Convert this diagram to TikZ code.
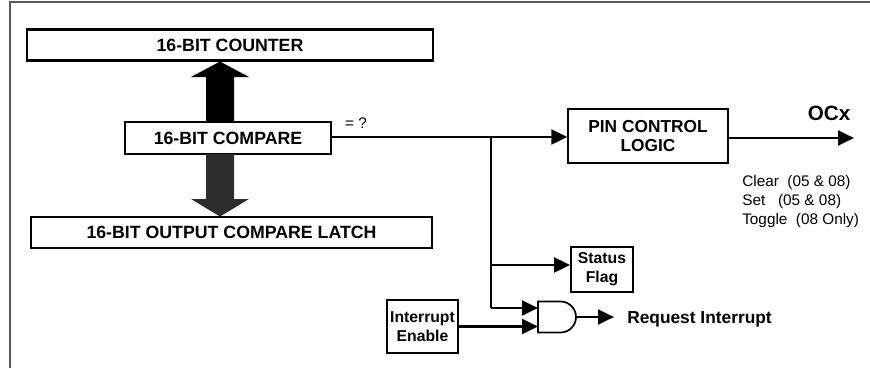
\documentclass[tikz,border=0pt]{standalone}
\usepackage{fontspec}
\setmainfont{Liberation Sans}
\usetikzlibrary{arrows.meta}
\begin{document}
\begin{tikzpicture}[x=0.75pt,y=-0.75pt,
  wire/.style={line width=2.2pt},
  arr/.style={wire,-{Triangle[length=12pt,width=11pt]}},
  bigbox/.style={draw,line width=2.2pt,inner sep=0pt,font=\fontsize{13.3}{14}\selectfont\bfseries},
  thinbox/.style={draw,line width=0.9pt,inner sep=0pt,align=center,font=\fontsize{13}{14.5}\selectfont\bfseries},
  smallbox/.style={draw,line width=1.3pt,inner sep=0pt,align=center,font=\fontsize{11.8}{14.2}\selectfont\bfseries},
  lbl/.style={inner sep=0pt,font=\fontsize{11.5}{14.25}\selectfont}
]
\useasboundingbox (0,0) rectangle (870,368);
% frame
\draw[line width=1.3pt,color={rgb,255:red,90;green,90;blue,90}] (10,368) -- (10,2) -- (870,2);

% boxes
\node[bigbox,minimum width=406*0.75pt,minimum height=31*0.75pt] (cnt) at (230,45) {16-BIT COUNTER};
\node[bigbox,minimum width=206*0.75pt,minimum height=32*0.75pt] (cmp) at (228,138) {16-BIT COMPARE};
\node[draw,line width=0.8pt,inner sep=0pt,font=\fontsize{13.3}{14}\selectfont\bfseries,minimum width=401*0.75pt,minimum height=31*0.75pt] (lat) at (231.5,232.5) {16-BIT OUTPUT COMPARE LATCH};

% wide arrows
\fill[black] (206,122) -- (206,77) -- (191,77) -- (220,61.5) -- (249,77) -- (234,77) -- (234,122) -- cycle;
\fill[color={rgb,255:red,45;green,45;blue,45}] (206,154) -- (206,199) -- (191,199) -- (220,216.5) -- (249,199) -- (234,199) -- (234,154) -- cycle;

\node[thinbox,minimum width=160*0.75pt,minimum height=54*0.75pt] (pin) at (648,136) {PIN CONTROL\\LOGIC};
\node[smallbox,minimum width=62*0.75pt,minimum height=45*0.75pt] (flag) at (602,269.5) {Status\\Flag};
\node[smallbox,minimum width=71*0.75pt,minimum height=53*0.75pt] (ie) at (422.5,326.5) {Interrupt\\Enable};

% texts
\node[lbl] (eq) at (356,123) {= ?};
\node[inner sep=0pt,font=\fontsize{15.5}{16}\selectfont\bfseries] (ocxt) at (829,113.5) {OCx};
\node[lbl,anchor=base west] (modes) at (742,186) {\begin{tabular}[t]{@{}l@{}}Clear~ (05 \& 08)\\ Set~~ (05 \& 08)\\ Toggle~ (08 Only)\end{tabular}};

% coordinates
\coordinate (j1) at (491,137);
\coordinate (j2) at (491,265);
\coordinate (j3) at (491,308);
\coordinate (ocx) at (854,138);
\coordinate (gin1) at (538,308);
\coordinate (gin2) at (538,326.5);
\coordinate (gout) at (576,317);
\coordinate (rq) at (614,317);

% AND gate
\draw[line width=1.3pt] (538,301.5) -- (560.5,301.5) arc[start angle=-90,end angle=90,radius=15.5] -- (538,332.5) -- cycle;

\node[inner sep=0pt,anchor=west,font=\fontsize{13}{14}\selectfont\bfseries] (rqt) at (627,319) {Request Interrupt};

% connectors
\draw[arr] (cmp.east |- j1) -- (pin.west |- j1);
\draw[wire] (j1) -- (j3);
\draw[arr] (j2) -- (j2 -| flag.west);
\draw[arr] (j3) -- (gin1);
\draw[arr] (ie.east |- gin2) -- (gin2);
\draw[arr] (gout) -- (rq);
\draw[arr] (pin.east |- ocx) -- (ocx);
\end{tikzpicture}
\end{document}
